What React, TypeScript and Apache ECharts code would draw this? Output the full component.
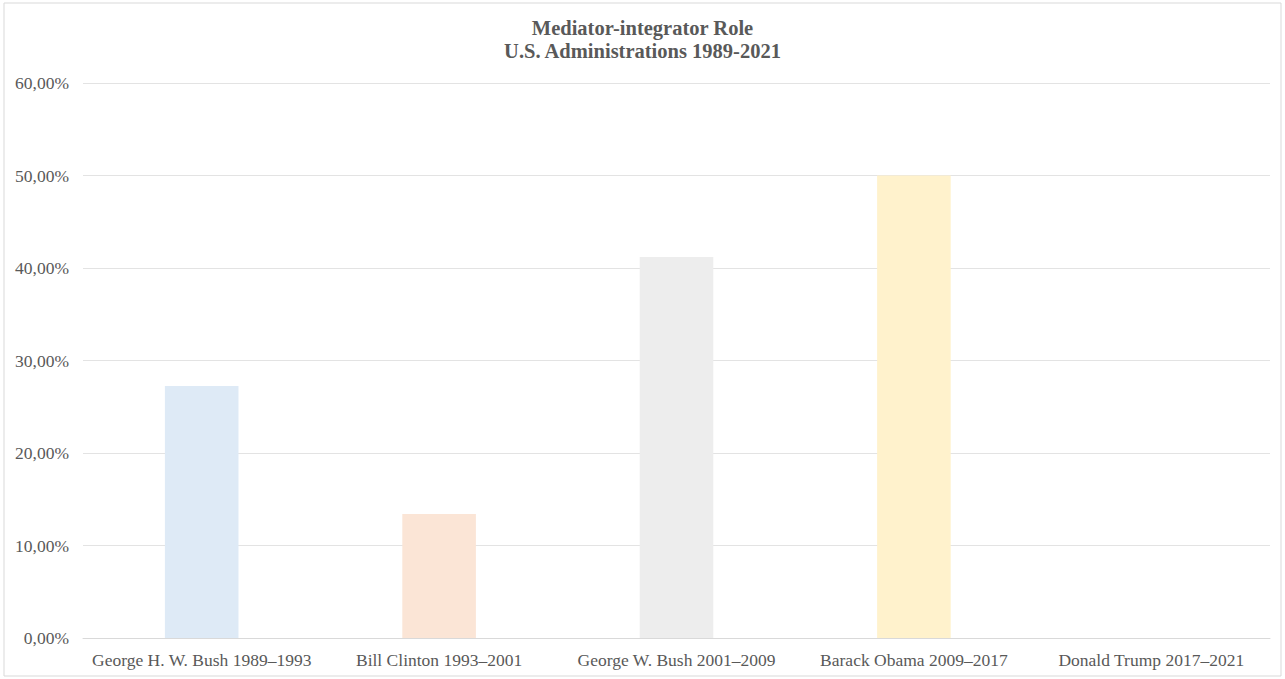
import React, { useEffect, useRef } from "react";
import * as echarts from "echarts";

const categories = [
  "George H. W. Bush 1989–1993",
  "Bill Clinton 1993–2001",
  "George W. Bush 2001–2009",
  "Barack Obama 2009–2017",
  "Donald Trump 2017–2021",
];
const values = [27.25, 13.4, 41.2, 50.0, 0];
const barColors = ["#DEEAF6", "#FBE5D6", "#EDEDED", "#FFF2CC", "#E2F0D9"];
const titleLines = ["Mediator-integrator Role", "U.S. Administrations 1989-2021"];

export default function App() {
  const ref = useRef<HTMLDivElement>(null);
  useEffect(() => {
    if (!ref.current) return;
    const chart = echarts.init(ref.current, null, { renderer: "svg" });
    chart.setOption({
      animation: false,
      backgroundColor: "#ffffff",
      textStyle: { fontFamily: "Liberation Serif" },
      title: {
        text: titleLines.join("\n"),
        left: "center",
        top: 11,
        textStyle: {
          fontFamily: "Liberation Serif",
          fontWeight: "bold",
          fontSize: 20.5,
          lineHeight: 23,
          color: "#595959",
        },
      },
      graphic: [
        {
          type: "rect",
          shape: { x: 4, y: 3, width: 1277, height: 673 },
          style: { fill: "none", stroke: "#D9D9D9", lineWidth: 1 },
          silent: true,
        },
      ],
      grid: { left: 83, right: 15, top: 83, bottom: 41, containLabel: false },
      xAxis: {
        type: "category",
        data: categories,
        axisTick: { show: false },
        axisLine: { show: true, lineStyle: { color: "#D9D9D9" } },
        axisLabel: {
          color: "#595959",
          fontSize: 17.5,
          fontFamily: "Liberation Serif",
          margin: 13,
          interval: 0,
        },
      },
      yAxis: {
        type: "value",
        min: 0,
        max: 60,
        interval: 10,
        axisLine: { show: false },
        axisTick: { show: false },
        splitLine: { lineStyle: { color: "#E3E3E3" } },
        axisLabel: {
          color: "#595959",
          fontSize: 17.5,
          fontFamily: "Liberation Serif",
          margin: 14,
          formatter: (v: number) => v.toFixed(2).replace(".", ",") + "%",
        },
      },
      series: [
        {
          type: "bar",
          barWidth: "31%",
          data: values.map((v, i) => ({ value: v, itemStyle: { color: barColors[i] } })),
        },
      ],
    });
    return () => chart.dispose();
  }, []);
  return (
    <div
      ref={ref}
      style={{ position: "fixed", left: 0, top: 0, width: 1285, height: 679 }}
    />
  );
}
